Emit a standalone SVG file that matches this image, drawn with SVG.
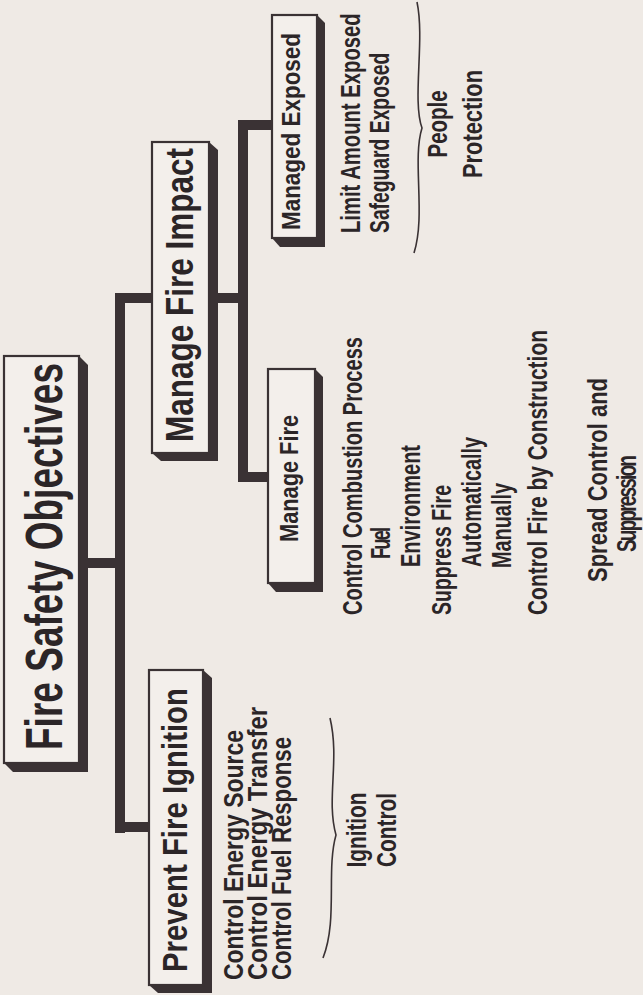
<svg xmlns="http://www.w3.org/2000/svg" width="643" height="995" viewBox="0 0 643 995">
<style>
.bg{fill:#efeae5}
.box{fill:#f3efeb;stroke:#3a3234;stroke-width:2.2}
.sh{fill:#3a3234}
.bar{fill:#3a3234}
.t{font-family:"Liberation Sans Narrow","Liberation Sans",Arial,sans-serif;font-weight:bold;fill:#2b2527}
.brace{fill:none;stroke:#3a3234;stroke-width:1.6}
</style>
<rect class="bg" x="0" y="0" width="643" height="995"/>
<g id="connectors">
<rect class="bar" x="87" y="558" width="30" height="10"/>
<rect class="bar" x="115" y="293" width="10" height="540"/>
<rect class="bar" x="115" y="293" width="38" height="10"/>
<rect class="bar" x="115" y="822" width="35" height="10"/>
<rect class="bar" x="216" y="293" width="24" height="10"/>
<rect class="bar" x="238" y="120" width="10" height="362"/>
<rect class="bar" x="238" y="120" width="35" height="10"/>
<rect class="bar" x="238" y="472" width="31" height="10"/>
</g>
<g id="root">
<polygon class="sh" points="79,356 88,365 88,772 13,772 4,763"/>
<rect class="box" x="4" y="356" width="75" height="407"/>
<text class="t" font-size="52" textLength="387" lengthAdjust="spacingAndGlyphs" transform="translate(62,750) rotate(-90)">Fire Safety Objectives</text>
</g>
<g id="impact">
<polygon class="sh" points="209,142 218,150 218,461 161,461 152,453"/>
<rect class="box" x="152" y="142" width="57" height="311"/>
<text class="t" font-size="38" textLength="294" lengthAdjust="spacingAndGlyphs" transform="translate(193,442) rotate(-90)">Manage Fire Impact</text>
</g>
<g id="prevent">
<polygon class="sh" points="203,670 212,678 212,993 158,993 149,985"/>
<rect class="box" x="149" y="670" width="54" height="315"/>
<text class="t" font-size="35" textLength="284" lengthAdjust="spacingAndGlyphs" transform="translate(187,972) rotate(-90)">Prevent Fire Ignition</text>
<text class="t" font-size="27" textLength="250" lengthAdjust="spacingAndGlyphs" transform="translate(243,980) rotate(-90)">Control Energy Source</text>
<text class="t" font-size="27" textLength="273" lengthAdjust="spacingAndGlyphs" transform="translate(267,980) rotate(-90)">Control Energy Transfer</text>
<text class="t" font-size="27" textLength="243" lengthAdjust="spacingAndGlyphs" transform="translate(291,980) rotate(-90)">Control Fuel Response</text>
<path class="brace" d="M330 718 C340 760,326 800,336 835 C326 870,338 920,323 958"/>
<text class="t" font-size="27" text-anchor="middle" textLength="75" lengthAdjust="spacingAndGlyphs" transform="translate(366,830) rotate(-90)">Ignition</text>
<text class="t" font-size="27" text-anchor="middle" textLength="74" lengthAdjust="spacingAndGlyphs" transform="translate(396,830) rotate(-90)">Control</text>
</g>
<g id="manage-fire">
<polygon class="sh" points="315,369 323,377 323,592 276,592 268,583"/>
<rect class="box" x="268" y="369" width="47" height="214"/>
<text class="t" font-size="25" textLength="127" lengthAdjust="spacingAndGlyphs" transform="translate(298,542) rotate(-90)">Manage Fire</text>
<text class="t" font-size="27" textLength="278" lengthAdjust="spacingAndGlyphs" transform="translate(362,615) rotate(-90)">Control Combustion Process</text>
<text class="t" font-size="27" letter-spacing="-2.8" transform="translate(390,559) rotate(-90) scale(0.68,1)">Fuel</text>
<text class="t" font-size="27" textLength="122" lengthAdjust="spacingAndGlyphs" transform="translate(420,567) rotate(-90)">Environment</text>
<text class="t" font-size="27" textLength="130" lengthAdjust="spacingAndGlyphs" transform="translate(451,615) rotate(-90)">Suppress Fire</text>
<text class="t" font-size="27" textLength="130" lengthAdjust="spacingAndGlyphs" transform="translate(481,567) rotate(-90)">Automatically</text>
<text class="t" font-size="27" textLength="85" lengthAdjust="spacingAndGlyphs" transform="translate(511,568) rotate(-90)">Manually</text>
<text class="t" font-size="27" textLength="285" lengthAdjust="spacingAndGlyphs" transform="translate(547,615) rotate(-90)">Control Fire by Construction</text>
<text class="t" font-size="28" textLength="204" lengthAdjust="spacingAndGlyphs" transform="translate(607,582) rotate(-90)">Spread Control and</text>
<text class="t" font-size="28" letter-spacing="-2.7" transform="translate(636,552) rotate(-90) scale(0.68,1)">Suppression</text>
</g>
<g id="managed-exposed">
<polygon class="sh" points="317,15 325,23 325,247 280,247 272,238"/>
<rect class="box" x="272" y="15" width="45" height="223"/>
<text class="t" font-size="25" textLength="197" lengthAdjust="spacingAndGlyphs" transform="translate(300,230) rotate(-90)">Managed Exposed</text>
<text class="t" font-size="27" transform="translate(360,233) rotate(-90) scale(0.75,1)">Limit Amount Exposed</text>
<text class="t" font-size="27" transform="translate(389,233) rotate(-90) scale(0.715,1)">Safeguard Exposed</text>
<path class="brace" d="M417 2 C425 40,412 100,422 128 C412 160,426 215,414 253"/>
<text class="t" font-size="28" text-anchor="middle" textLength="67" lengthAdjust="spacingAndGlyphs" transform="translate(447,124) rotate(-90)">People</text>
<text class="t" font-size="28" text-anchor="middle" textLength="108" lengthAdjust="spacingAndGlyphs" transform="translate(482,124) rotate(-90)">Protection</text>
</g>
</svg>
